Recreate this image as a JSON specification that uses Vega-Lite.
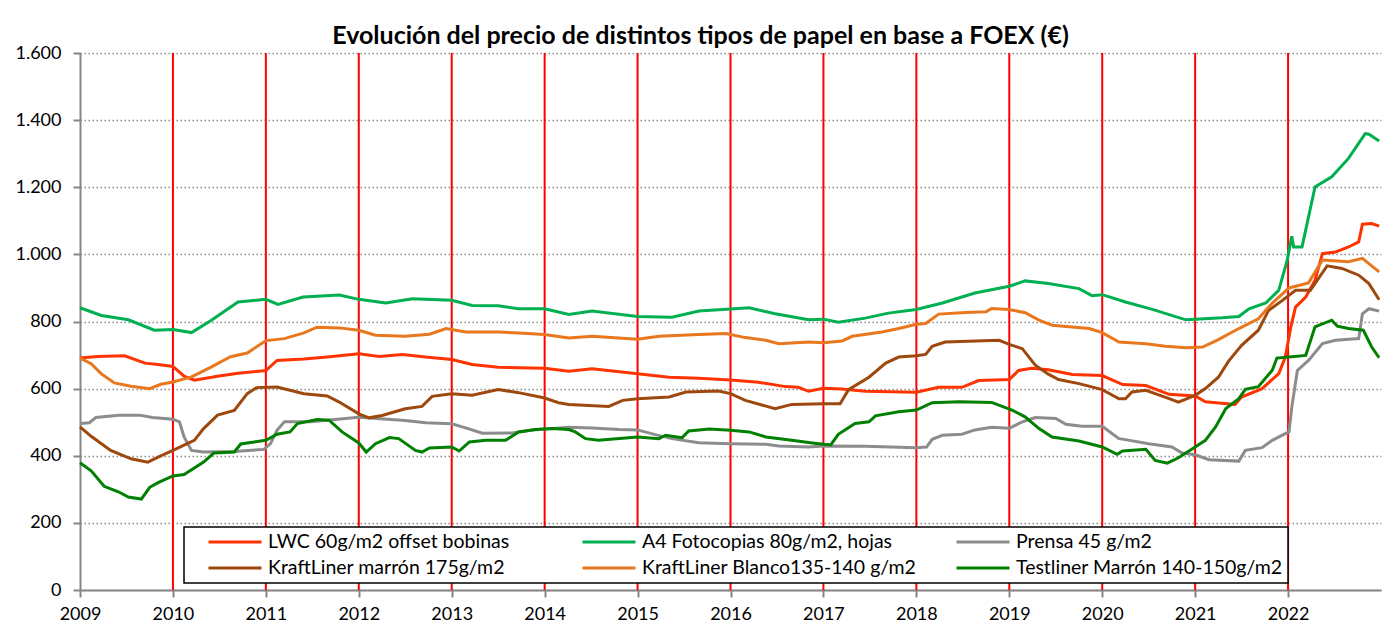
{
  "$schema": "https://vega.github.io/schema/vega-lite/v6.json",
  "autosize": "none",
  "width": 1301,
  "height": 537,
  "padding": {"left": 80, "top": 53, "right": 2, "bottom": 40},
  "background": "#ffffff",
  "title": {
    "text": "Evolución del precio de distintos tipos de papel en base a FOEX (€)",
    "font": "Lato",
    "fontSize": 25,
    "fontWeight": "bold",
    "color": "#000000",
    "anchor": "middle",
    "frame": "group",
    "dx": -30,
    "dy": 9,
    "offset": 4
  },
  "config": {
    "view": {"stroke": null},
    "font": "Lato",
    "legend": {"strokeWidth": 1.5}
  },
  "datasets": {
    "years": [
      {"yr": 2010}, {"yr": 2011}, {"yr": 2012}, {"yr": 2013}, {"yr": 2014}, {"yr": 2015}, {"yr": 2016},
      {"yr": 2017}, {"yr": 2018}, {"yr": 2019}, {"yr": 2020}, {"yr": 2021}, {"yr": 2022}
    ],
    "prices": [
      {"s":"LWC 60g/m2 offset bobinas","t":2009.0,"v":691},{"s":"LWC 60g/m2 offset bobinas","t":2009.19,"v":696},{"s":"LWC 60g/m2 offset bobinas","t":2009.48,"v":698},{"s":"LWC 60g/m2 offset bobinas","t":2009.7,"v":676},{"s":"LWC 60g/m2 offset bobinas","t":2009.84,"v":672},{"s":"LWC 60g/m2 offset bobinas","t":2010.0,"v":666},{"s":"LWC 60g/m2 offset bobinas","t":2010.12,"v":637},{"s":"LWC 60g/m2 offset bobinas","t":2010.23,"v":625},{"s":"LWC 60g/m2 offset bobinas","t":2010.48,"v":637},{"s":"LWC 60g/m2 offset bobinas","t":2010.7,"v":646},{"s":"LWC 60g/m2 offset bobinas","t":2011.0,"v":654},{"s":"LWC 60g/m2 offset bobinas","t":2011.12,"v":684},{"s":"LWC 60g/m2 offset bobinas","t":2011.41,"v":688},{"s":"LWC 60g/m2 offset bobinas","t":2011.66,"v":694},{"s":"LWC 60g/m2 offset bobinas","t":2012.0,"v":704},{"s":"LWC 60g/m2 offset bobinas","t":2012.22,"v":696},{"s":"LWC 60g/m2 offset bobinas","t":2012.47,"v":702},{"s":"LWC 60g/m2 offset bobinas","t":2012.72,"v":694},{"s":"LWC 60g/m2 offset bobinas","t":2013.0,"v":687},{"s":"LWC 60g/m2 offset bobinas","t":2013.22,"v":672},{"s":"LWC 60g/m2 offset bobinas","t":2013.5,"v":664},{"s":"LWC 60g/m2 offset bobinas","t":2013.72,"v":662},{"s":"LWC 60g/m2 offset bobinas","t":2014.0,"v":661},{"s":"LWC 60g/m2 offset bobinas","t":2014.26,"v":652},{"s":"LWC 60g/m2 offset bobinas","t":2014.51,"v":659},{"s":"LWC 60g/m2 offset bobinas","t":2015.0,"v":644},{"s":"LWC 60g/m2 offset bobinas","t":2015.34,"v":634},{"s":"LWC 60g/m2 offset bobinas","t":2015.66,"v":631},{"s":"LWC 60g/m2 offset bobinas","t":2016.0,"v":626},{"s":"LWC 60g/m2 offset bobinas","t":2016.3,"v":619},{"s":"LWC 60g/m2 offset bobinas","t":2016.59,"v":606},{"s":"LWC 60g/m2 offset bobinas","t":2016.73,"v":604},{"s":"LWC 60g/m2 offset bobinas","t":2016.84,"v":592},{"s":"LWC 60g/m2 offset bobinas","t":2017.0,"v":601},{"s":"LWC 60g/m2 offset bobinas","t":2017.2,"v":599},{"s":"LWC 60g/m2 offset bobinas","t":2017.45,"v":592},{"s":"LWC 60g/m2 offset bobinas","t":2018.0,"v":589},{"s":"LWC 60g/m2 offset bobinas","t":2018.24,"v":604},{"s":"LWC 60g/m2 offset bobinas","t":2018.49,"v":604},{"s":"LWC 60g/m2 offset bobinas","t":2018.67,"v":624},{"s":"LWC 60g/m2 offset bobinas","t":2019.0,"v":627},{"s":"LWC 60g/m2 offset bobinas","t":2019.1,"v":654},{"s":"LWC 60g/m2 offset bobinas","t":2019.24,"v":661},{"s":"LWC 60g/m2 offset bobinas","t":2019.42,"v":656},{"s":"LWC 60g/m2 offset bobinas","t":2019.68,"v":642},{"s":"LWC 60g/m2 offset bobinas","t":2020.0,"v":639},{"s":"LWC 60g/m2 offset bobinas","t":2020.22,"v":612},{"s":"LWC 60g/m2 offset bobinas","t":2020.47,"v":609},{"s":"LWC 60g/m2 offset bobinas","t":2020.72,"v":583},{"s":"LWC 60g/m2 offset bobinas","t":2021.0,"v":578},{"s":"LWC 60g/m2 offset bobinas","t":2021.11,"v":561},{"s":"LWC 60g/m2 offset bobinas","t":2021.43,"v":553},{"s":"LWC 60g/m2 offset bobinas","t":2021.5,"v":575},{"s":"LWC 60g/m2 offset bobinas","t":2021.72,"v":600},{"s":"LWC 60g/m2 offset bobinas","t":2021.9,"v":645},{"s":"LWC 60g/m2 offset bobinas","t":2021.97,"v":694},{"s":"LWC 60g/m2 offset bobinas","t":2022.03,"v":784},{"s":"LWC 60g/m2 offset bobinas","t":2022.08,"v":843},{"s":"LWC 60g/m2 offset bobinas","t":2022.19,"v":873},{"s":"LWC 60g/m2 offset bobinas","t":2022.29,"v":923},{"s":"LWC 60g/m2 offset bobinas","t":2022.37,"v":1002},{"s":"LWC 60g/m2 offset bobinas","t":2022.51,"v":1007},{"s":"LWC 60g/m2 offset bobinas","t":2022.65,"v":1022},{"s":"LWC 60g/m2 offset bobinas","t":2022.76,"v":1037},{"s":"LWC 60g/m2 offset bobinas","t":2022.8,"v":1090},{"s":"LWC 60g/m2 offset bobinas","t":2022.9,"v":1092},{"s":"LWC 60g/m2 offset bobinas","t":2022.98,"v":1084},

      {"s":"A4 Fotocopias 80g/m2, hojas","t":2009.0,"v":841},{"s":"A4 Fotocopias 80g/m2, hojas","t":2009.23,"v":818},{"s":"A4 Fotocopias 80g/m2, hojas","t":2009.52,"v":805},{"s":"A4 Fotocopias 80g/m2, hojas","t":2009.8,"v":774},{"s":"A4 Fotocopias 80g/m2, hojas","t":2010.0,"v":776},{"s":"A4 Fotocopias 80g/m2, hojas","t":2010.2,"v":767},{"s":"A4 Fotocopias 80g/m2, hojas","t":2010.41,"v":803},{"s":"A4 Fotocopias 80g/m2, hojas","t":2010.7,"v":858},{"s":"A4 Fotocopias 80g/m2, hojas","t":2011.0,"v":866},{"s":"A4 Fotocopias 80g/m2, hojas","t":2011.13,"v":851},{"s":"A4 Fotocopias 80g/m2, hojas","t":2011.4,"v":873},{"s":"A4 Fotocopias 80g/m2, hojas","t":2011.79,"v":879},{"s":"A4 Fotocopias 80g/m2, hojas","t":2012.0,"v":866},{"s":"A4 Fotocopias 80g/m2, hojas","t":2012.29,"v":855},{"s":"A4 Fotocopias 80g/m2, hojas","t":2012.58,"v":868},{"s":"A4 Fotocopias 80g/m2, hojas","t":2013.0,"v":863},{"s":"A4 Fotocopias 80g/m2, hojas","t":2013.22,"v":848},{"s":"A4 Fotocopias 80g/m2, hojas","t":2013.5,"v":847},{"s":"A4 Fotocopias 80g/m2, hojas","t":2013.72,"v":838},{"s":"A4 Fotocopias 80g/m2, hojas","t":2014.0,"v":838},{"s":"A4 Fotocopias 80g/m2, hojas","t":2014.26,"v":821},{"s":"A4 Fotocopias 80g/m2, hojas","t":2014.51,"v":831},{"s":"A4 Fotocopias 80g/m2, hojas","t":2015.0,"v":815},{"s":"A4 Fotocopias 80g/m2, hojas","t":2015.37,"v":813},{"s":"A4 Fotocopias 80g/m2, hojas","t":2015.66,"v":831},{"s":"A4 Fotocopias 80g/m2, hojas","t":2016.0,"v":837},{"s":"A4 Fotocopias 80g/m2, hojas","t":2016.2,"v":841},{"s":"A4 Fotocopias 80g/m2, hojas","t":2016.48,"v":823},{"s":"A4 Fotocopias 80g/m2, hojas","t":2016.84,"v":805},{"s":"A4 Fotocopias 80g/m2, hojas","t":2017.0,"v":807},{"s":"A4 Fotocopias 80g/m2, hojas","t":2017.16,"v":798},{"s":"A4 Fotocopias 80g/m2, hojas","t":2017.45,"v":810},{"s":"A4 Fotocopias 80g/m2, hojas","t":2017.7,"v":825},{"s":"A4 Fotocopias 80g/m2, hojas","t":2018.0,"v":836},{"s":"A4 Fotocopias 80g/m2, hojas","t":2018.28,"v":855},{"s":"A4 Fotocopias 80g/m2, hojas","t":2018.63,"v":885},{"s":"A4 Fotocopias 80g/m2, hojas","t":2019.0,"v":905},{"s":"A4 Fotocopias 80g/m2, hojas","t":2019.17,"v":921},{"s":"A4 Fotocopias 80g/m2, hojas","t":2019.42,"v":913},{"s":"A4 Fotocopias 80g/m2, hojas","t":2019.75,"v":898},{"s":"A4 Fotocopias 80g/m2, hojas","t":2019.89,"v":877},{"s":"A4 Fotocopias 80g/m2, hojas","t":2020.0,"v":880},{"s":"A4 Fotocopias 80g/m2, hojas","t":2020.25,"v":858},{"s":"A4 Fotocopias 80g/m2, hojas","t":2020.54,"v":836},{"s":"A4 Fotocopias 80g/m2, hojas","t":2020.9,"v":805},{"s":"A4 Fotocopias 80g/m2, hojas","t":2021.0,"v":807},{"s":"A4 Fotocopias 80g/m2, hojas","t":2021.29,"v":811},{"s":"A4 Fotocopias 80g/m2, hojas","t":2021.47,"v":815},{"s":"A4 Fotocopias 80g/m2, hojas","t":2021.58,"v":838},{"s":"A4 Fotocopias 80g/m2, hojas","t":2021.76,"v":855},{"s":"A4 Fotocopias 80g/m2, hojas","t":2021.9,"v":893},{"s":"A4 Fotocopias 80g/m2, hojas","t":2021.99,"v":982},{"s":"A4 Fotocopias 80g/m2, hojas","t":2022.04,"v":1054},{"s":"A4 Fotocopias 80g/m2, hojas","t":2022.06,"v":1022},{"s":"A4 Fotocopias 80g/m2, hojas","t":2022.15,"v":1022},{"s":"A4 Fotocopias 80g/m2, hojas","t":2022.29,"v":1201},{"s":"A4 Fotocopias 80g/m2, hojas","t":2022.47,"v":1231},{"s":"A4 Fotocopias 80g/m2, hojas","t":2022.65,"v":1286},{"s":"A4 Fotocopias 80g/m2, hojas","t":2022.83,"v":1360},{"s":"A4 Fotocopias 80g/m2, hojas","t":2022.87,"v":1358},{"s":"A4 Fotocopias 80g/m2, hojas","t":2022.98,"v":1338},

      {"s":"Prensa 45 g/m2","t":2009.0,"v":496},{"s":"Prensa 45 g/m2","t":2009.1,"v":498},{"s":"Prensa 45 g/m2","t":2009.17,"v":514},{"s":"Prensa 45 g/m2","t":2009.42,"v":521},{"s":"Prensa 45 g/m2","t":2009.64,"v":521},{"s":"Prensa 45 g/m2","t":2009.78,"v":514},{"s":"Prensa 45 g/m2","t":2010.0,"v":509},{"s":"Prensa 45 g/m2","t":2010.07,"v":501},{"s":"Prensa 45 g/m2","t":2010.12,"v":456},{"s":"Prensa 45 g/m2","t":2010.2,"v":416},{"s":"Prensa 45 g/m2","t":2010.33,"v":411},{"s":"Prensa 45 g/m2","t":2010.66,"v":413},{"s":"Prensa 45 g/m2","t":2010.98,"v":419},{"s":"Prensa 45 g/m2","t":2011.05,"v":436},{"s":"Prensa 45 g/m2","t":2011.12,"v":476},{"s":"Prensa 45 g/m2","t":2011.2,"v":501},{"s":"Prensa 45 g/m2","t":2011.48,"v":501},{"s":"Prensa 45 g/m2","t":2011.66,"v":506},{"s":"Prensa 45 g/m2","t":2012.0,"v":515},{"s":"Prensa 45 g/m2","t":2012.5,"v":505},{"s":"Prensa 45 g/m2","t":2012.72,"v":498},{"s":"Prensa 45 g/m2","t":2013.0,"v":495},{"s":"Prensa 45 g/m2","t":2013.15,"v":483},{"s":"Prensa 45 g/m2","t":2013.33,"v":467},{"s":"Prensa 45 g/m2","t":2013.65,"v":468},{"s":"Prensa 45 g/m2","t":2013.87,"v":477},{"s":"Prensa 45 g/m2","t":2014.26,"v":485},{"s":"Prensa 45 g/m2","t":2014.51,"v":483},{"s":"Prensa 45 g/m2","t":2014.8,"v":478},{"s":"Prensa 45 g/m2","t":2015.0,"v":477},{"s":"Prensa 45 g/m2","t":2015.19,"v":463},{"s":"Prensa 45 g/m2","t":2015.37,"v":451},{"s":"Prensa 45 g/m2","t":2015.66,"v":439},{"s":"Prensa 45 g/m2","t":2016.0,"v":436},{"s":"Prensa 45 g/m2","t":2016.38,"v":434},{"s":"Prensa 45 g/m2","t":2016.52,"v":429},{"s":"Prensa 45 g/m2","t":2016.84,"v":426},{"s":"Prensa 45 g/m2","t":2017.0,"v":429},{"s":"Prensa 45 g/m2","t":2017.45,"v":428},{"s":"Prensa 45 g/m2","t":2018.0,"v":424},{"s":"Prensa 45 g/m2","t":2018.11,"v":426},{"s":"Prensa 45 g/m2","t":2018.17,"v":449},{"s":"Prensa 45 g/m2","t":2018.28,"v":461},{"s":"Prensa 45 g/m2","t":2018.49,"v":464},{"s":"Prensa 45 g/m2","t":2018.63,"v":477},{"s":"Prensa 45 g/m2","t":2018.81,"v":485},{"s":"Prensa 45 g/m2","t":2019.0,"v":482},{"s":"Prensa 45 g/m2","t":2019.14,"v":501},{"s":"Prensa 45 g/m2","t":2019.28,"v":514},{"s":"Prensa 45 g/m2","t":2019.5,"v":511},{"s":"Prensa 45 g/m2","t":2019.61,"v":494},{"s":"Prensa 45 g/m2","t":2019.78,"v":488},{"s":"Prensa 45 g/m2","t":2020.0,"v":488},{"s":"Prensa 45 g/m2","t":2020.18,"v":451},{"s":"Prensa 45 g/m2","t":2020.25,"v":448},{"s":"Prensa 45 g/m2","t":2020.5,"v":436},{"s":"Prensa 45 g/m2","t":2020.75,"v":426},{"s":"Prensa 45 g/m2","t":2020.86,"v":408},{"s":"Prensa 45 g/m2","t":2021.0,"v":403},{"s":"Prensa 45 g/m2","t":2021.15,"v":388},{"s":"Prensa 45 g/m2","t":2021.47,"v":384},{"s":"Prensa 45 g/m2","t":2021.54,"v":416},{"s":"Prensa 45 g/m2","t":2021.72,"v":424},{"s":"Prensa 45 g/m2","t":2021.83,"v":446},{"s":"Prensa 45 g/m2","t":2021.97,"v":466},{"s":"Prensa 45 g/m2","t":2022.01,"v":471},{"s":"Prensa 45 g/m2","t":2022.04,"v":545},{"s":"Prensa 45 g/m2","t":2022.1,"v":654},{"s":"Prensa 45 g/m2","t":2022.22,"v":684},{"s":"Prensa 45 g/m2","t":2022.37,"v":734},{"s":"Prensa 45 g/m2","t":2022.51,"v":744},{"s":"Prensa 45 g/m2","t":2022.76,"v":749},{"s":"Prensa 45 g/m2","t":2022.8,"v":823},{"s":"Prensa 45 g/m2","t":2022.87,"v":838},{"s":"Prensa 45 g/m2","t":2022.98,"v":831},

      {"s":"KraftLiner marrón 175g/m2","t":2009.0,"v":486},{"s":"KraftLiner marrón 175g/m2","t":2009.12,"v":458},{"s":"KraftLiner marrón 175g/m2","t":2009.33,"v":416},{"s":"KraftLiner marrón 175g/m2","t":2009.55,"v":391},{"s":"KraftLiner marrón 175g/m2","t":2009.73,"v":381},{"s":"KraftLiner marrón 175g/m2","t":2009.84,"v":396},{"s":"KraftLiner marrón 175g/m2","t":2010.0,"v":416},{"s":"KraftLiner marrón 175g/m2","t":2010.23,"v":446},{"s":"KraftLiner marrón 175g/m2","t":2010.33,"v":481},{"s":"KraftLiner marrón 175g/m2","t":2010.48,"v":521},{"s":"KraftLiner marrón 175g/m2","t":2010.66,"v":535},{"s":"KraftLiner marrón 175g/m2","t":2010.8,"v":585},{"s":"KraftLiner marrón 175g/m2","t":2010.9,"v":603},{"s":"KraftLiner marrón 175g/m2","t":2011.12,"v":605},{"s":"KraftLiner marrón 175g/m2","t":2011.41,"v":585},{"s":"KraftLiner marrón 175g/m2","t":2011.66,"v":578},{"s":"KraftLiner marrón 175g/m2","t":2011.79,"v":560},{"s":"KraftLiner marrón 175g/m2","t":2012.0,"v":525},{"s":"KraftLiner marrón 175g/m2","t":2012.11,"v":513},{"s":"KraftLiner marrón 175g/m2","t":2012.25,"v":520},{"s":"KraftLiner marrón 175g/m2","t":2012.5,"v":540},{"s":"KraftLiner marrón 175g/m2","t":2012.68,"v":547},{"s":"KraftLiner marrón 175g/m2","t":2012.79,"v":577},{"s":"KraftLiner marrón 175g/m2","t":2013.0,"v":585},{"s":"KraftLiner marrón 175g/m2","t":2013.22,"v":580},{"s":"KraftLiner marrón 175g/m2","t":2013.5,"v":597},{"s":"KraftLiner marrón 175g/m2","t":2013.72,"v":588},{"s":"KraftLiner marrón 175g/m2","t":2014.0,"v":572},{"s":"KraftLiner marrón 175g/m2","t":2014.15,"v":558},{"s":"KraftLiner marrón 175g/m2","t":2014.26,"v":553},{"s":"KraftLiner marrón 175g/m2","t":2014.69,"v":547},{"s":"KraftLiner marrón 175g/m2","t":2014.84,"v":565},{"s":"KraftLiner marrón 175g/m2","t":2015.0,"v":570},{"s":"KraftLiner marrón 175g/m2","t":2015.34,"v":575},{"s":"KraftLiner marrón 175g/m2","t":2015.52,"v":590},{"s":"KraftLiner marrón 175g/m2","t":2015.87,"v":593},{"s":"KraftLiner marrón 175g/m2","t":2016.0,"v":585},{"s":"KraftLiner marrón 175g/m2","t":2016.16,"v":565},{"s":"KraftLiner marrón 175g/m2","t":2016.48,"v":540},{"s":"KraftLiner marrón 175g/m2","t":2016.66,"v":553},{"s":"KraftLiner marrón 175g/m2","t":2017.0,"v":555},{"s":"KraftLiner marrón 175g/m2","t":2017.18,"v":555},{"s":"KraftLiner marrón 175g/m2","t":2017.27,"v":597},{"s":"KraftLiner marrón 175g/m2","t":2017.49,"v":634},{"s":"KraftLiner marrón 175g/m2","t":2017.67,"v":676},{"s":"KraftLiner marrón 175g/m2","t":2017.81,"v":694},{"s":"KraftLiner marrón 175g/m2","t":2018.0,"v":698},{"s":"KraftLiner marrón 175g/m2","t":2018.1,"v":702},{"s":"KraftLiner marrón 175g/m2","t":2018.17,"v":726},{"s":"KraftLiner marrón 175g/m2","t":2018.31,"v":739},{"s":"KraftLiner marrón 175g/m2","t":2018.89,"v":744},{"s":"KraftLiner marrón 175g/m2","t":2019.0,"v":732},{"s":"KraftLiner marrón 175g/m2","t":2019.14,"v":719},{"s":"KraftLiner marrón 175g/m2","t":2019.28,"v":670},{"s":"KraftLiner marrón 175g/m2","t":2019.42,"v":643},{"s":"KraftLiner marrón 175g/m2","t":2019.53,"v":627},{"s":"KraftLiner marrón 175g/m2","t":2019.75,"v":615},{"s":"KraftLiner marrón 175g/m2","t":2020.0,"v":597},{"s":"KraftLiner marrón 175g/m2","t":2020.18,"v":570},{"s":"KraftLiner marrón 175g/m2","t":2020.25,"v":570},{"s":"KraftLiner marrón 175g/m2","t":2020.32,"v":590},{"s":"KraftLiner marrón 175g/m2","t":2020.47,"v":595},{"s":"KraftLiner marrón 175g/m2","t":2020.72,"v":570},{"s":"KraftLiner marrón 175g/m2","t":2020.82,"v":560},{"s":"KraftLiner marrón 175g/m2","t":2021.0,"v":580},{"s":"KraftLiner marrón 175g/m2","t":2021.11,"v":600},{"s":"KraftLiner marrón 175g/m2","t":2021.25,"v":634},{"s":"KraftLiner marrón 175g/m2","t":2021.36,"v":682},{"s":"KraftLiner marrón 175g/m2","t":2021.5,"v":729},{"s":"KraftLiner marrón 175g/m2","t":2021.68,"v":774},{"s":"KraftLiner marrón 175g/m2","t":2021.79,"v":833},{"s":"KraftLiner marrón 175g/m2","t":2021.94,"v":863},{"s":"KraftLiner marrón 175g/m2","t":2022.08,"v":893},{"s":"KraftLiner marrón 175g/m2","t":2022.24,"v":893},{"s":"KraftLiner marrón 175g/m2","t":2022.42,"v":966},{"s":"KraftLiner marrón 175g/m2","t":2022.58,"v":958},{"s":"KraftLiner marrón 175g/m2","t":2022.76,"v":938},{"s":"KraftLiner marrón 175g/m2","t":2022.87,"v":913},{"s":"KraftLiner marrón 175g/m2","t":2022.98,"v":865},

      {"s":"KraftLiner Blanco135-140 g/m2","t":2009.0,"v":691},{"s":"KraftLiner Blanco135-140 g/m2","t":2009.12,"v":674},{"s":"KraftLiner Blanco135-140 g/m2","t":2009.23,"v":644},{"s":"KraftLiner Blanco135-140 g/m2","t":2009.37,"v":617},{"s":"KraftLiner Blanco135-140 g/m2","t":2009.55,"v":607},{"s":"KraftLiner Blanco135-140 g/m2","t":2009.75,"v":600},{"s":"KraftLiner Blanco135-140 g/m2","t":2009.87,"v":613},{"s":"KraftLiner Blanco135-140 g/m2","t":2010.0,"v":620},{"s":"KraftLiner Blanco135-140 g/m2","t":2010.2,"v":635},{"s":"KraftLiner Blanco135-140 g/m2","t":2010.41,"v":664},{"s":"KraftLiner Blanco135-140 g/m2","t":2010.62,"v":695},{"s":"KraftLiner Blanco135-140 g/m2","t":2010.8,"v":706},{"s":"KraftLiner Blanco135-140 g/m2","t":2011.0,"v":743},{"s":"KraftLiner Blanco135-140 g/m2","t":2011.2,"v":749},{"s":"KraftLiner Blanco135-140 g/m2","t":2011.41,"v":766},{"s":"KraftLiner Blanco135-140 g/m2","t":2011.55,"v":783},{"s":"KraftLiner Blanco135-140 g/m2","t":2011.79,"v":781},{"s":"KraftLiner Blanco135-140 g/m2","t":2012.0,"v":774},{"s":"KraftLiner Blanco135-140 g/m2","t":2012.18,"v":759},{"s":"KraftLiner Blanco135-140 g/m2","t":2012.5,"v":756},{"s":"KraftLiner Blanco135-140 g/m2","t":2012.76,"v":762},{"s":"KraftLiner Blanco135-140 g/m2","t":2012.94,"v":779},{"s":"KraftLiner Blanco135-140 g/m2","t":2013.15,"v":769},{"s":"KraftLiner Blanco135-140 g/m2","t":2013.5,"v":769},{"s":"KraftLiner Blanco135-140 g/m2","t":2013.72,"v":766},{"s":"KraftLiner Blanco135-140 g/m2","t":2014.0,"v":761},{"s":"KraftLiner Blanco135-140 g/m2","t":2014.26,"v":751},{"s":"KraftLiner Blanco135-140 g/m2","t":2014.51,"v":756},{"s":"KraftLiner Blanco135-140 g/m2","t":2015.0,"v":747},{"s":"KraftLiner Blanco135-140 g/m2","t":2015.23,"v":756},{"s":"KraftLiner Blanco135-140 g/m2","t":2015.66,"v":761},{"s":"KraftLiner Blanco135-140 g/m2","t":2015.95,"v":764},{"s":"KraftLiner Blanco135-140 g/m2","t":2016.16,"v":752},{"s":"KraftLiner Blanco135-140 g/m2","t":2016.38,"v":744},{"s":"KraftLiner Blanco135-140 g/m2","t":2016.52,"v":734},{"s":"KraftLiner Blanco135-140 g/m2","t":2016.84,"v":739},{"s":"KraftLiner Blanco135-140 g/m2","t":2017.0,"v":737},{"s":"KraftLiner Blanco135-140 g/m2","t":2017.2,"v":742},{"s":"KraftLiner Blanco135-140 g/m2","t":2017.31,"v":756},{"s":"KraftLiner Blanco135-140 g/m2","t":2017.63,"v":769},{"s":"KraftLiner Blanco135-140 g/m2","t":2017.81,"v":779},{"s":"KraftLiner Blanco135-140 g/m2","t":2018.0,"v":792},{"s":"KraftLiner Blanco135-140 g/m2","t":2018.1,"v":794},{"s":"KraftLiner Blanco135-140 g/m2","t":2018.24,"v":822},{"s":"KraftLiner Blanco135-140 g/m2","t":2018.53,"v":827},{"s":"KraftLiner Blanco135-140 g/m2","t":2018.75,"v":829},{"s":"KraftLiner Blanco135-140 g/m2","t":2018.81,"v":839},{"s":"KraftLiner Blanco135-140 g/m2","t":2019.0,"v":836},{"s":"KraftLiner Blanco135-140 g/m2","t":2019.17,"v":826},{"s":"KraftLiner Blanco135-140 g/m2","t":2019.32,"v":804},{"s":"KraftLiner Blanco135-140 g/m2","t":2019.46,"v":789},{"s":"KraftLiner Blanco135-140 g/m2","t":2019.86,"v":779},{"s":"KraftLiner Blanco135-140 g/m2","t":2020.0,"v":767},{"s":"KraftLiner Blanco135-140 g/m2","t":2020.18,"v":739},{"s":"KraftLiner Blanco135-140 g/m2","t":2020.47,"v":734},{"s":"KraftLiner Blanco135-140 g/m2","t":2020.68,"v":726},{"s":"KraftLiner Blanco135-140 g/m2","t":2020.9,"v":722},{"s":"KraftLiner Blanco135-140 g/m2","t":2021.08,"v":724},{"s":"KraftLiner Blanco135-140 g/m2","t":2021.25,"v":746},{"s":"KraftLiner Blanco135-140 g/m2","t":2021.47,"v":779},{"s":"KraftLiner Blanco135-140 g/m2","t":2021.68,"v":808},{"s":"KraftLiner Blanco135-140 g/m2","t":2021.83,"v":855},{"s":"KraftLiner Blanco135-140 g/m2","t":2022.01,"v":900},{"s":"KraftLiner Blanco135-140 g/m2","t":2022.22,"v":915},{"s":"KraftLiner Blanco135-140 g/m2","t":2022.37,"v":983},{"s":"KraftLiner Blanco135-140 g/m2","t":2022.65,"v":978},{"s":"KraftLiner Blanco135-140 g/m2","t":2022.8,"v":988},{"s":"KraftLiner Blanco135-140 g/m2","t":2022.98,"v":948},

      {"s":"Testliner Marrón 140-150g/m2","t":2009.0,"v":379},{"s":"Testliner Marrón 140-150g/m2","t":2009.12,"v":355},{"s":"Testliner Marrón 140-150g/m2","t":2009.26,"v":309},{"s":"Testliner Marrón 140-150g/m2","t":2009.42,"v":292},{"s":"Testliner Marrón 140-150g/m2","t":2009.52,"v":277},{"s":"Testliner Marrón 140-150g/m2","t":2009.66,"v":271},{"s":"Testliner Marrón 140-150g/m2","t":2009.75,"v":306},{"s":"Testliner Marrón 140-150g/m2","t":2009.84,"v":320},{"s":"Testliner Marrón 140-150g/m2","t":2010.0,"v":340},{"s":"Testliner Marrón 140-150g/m2","t":2010.12,"v":344},{"s":"Testliner Marrón 140-150g/m2","t":2010.33,"v":381},{"s":"Testliner Marrón 140-150g/m2","t":2010.44,"v":408},{"s":"Testliner Marrón 140-150g/m2","t":2010.66,"v":411},{"s":"Testliner Marrón 140-150g/m2","t":2010.73,"v":435},{"s":"Testliner Marrón 140-150g/m2","t":2011.0,"v":446},{"s":"Testliner Marrón 140-150g/m2","t":2011.12,"v":464},{"s":"Testliner Marrón 140-150g/m2","t":2011.26,"v":471},{"s":"Testliner Marrón 140-150g/m2","t":2011.34,"v":496},{"s":"Testliner Marrón 140-150g/m2","t":2011.55,"v":508},{"s":"Testliner Marrón 140-150g/m2","t":2011.68,"v":506},{"s":"Testliner Marrón 140-150g/m2","t":2011.82,"v":471},{"s":"Testliner Marrón 140-150g/m2","t":2012.0,"v":438},{"s":"Testliner Marrón 140-150g/m2","t":2012.08,"v":411},{"s":"Testliner Marrón 140-150g/m2","t":2012.18,"v":436},{"s":"Testliner Marrón 140-150g/m2","t":2012.33,"v":454},{"s":"Testliner Marrón 140-150g/m2","t":2012.43,"v":451},{"s":"Testliner Marrón 140-150g/m2","t":2012.61,"v":416},{"s":"Testliner Marrón 140-150g/m2","t":2012.68,"v":411},{"s":"Testliner Marrón 140-150g/m2","t":2012.76,"v":423},{"s":"Testliner Marrón 140-150g/m2","t":2013.0,"v":426},{"s":"Testliner Marrón 140-150g/m2","t":2013.08,"v":414},{"s":"Testliner Marrón 140-150g/m2","t":2013.19,"v":441},{"s":"Testliner Marrón 140-150g/m2","t":2013.37,"v":446},{"s":"Testliner Marrón 140-150g/m2","t":2013.58,"v":446},{"s":"Testliner Marrón 140-150g/m2","t":2013.72,"v":471},{"s":"Testliner Marrón 140-150g/m2","t":2013.9,"v":478},{"s":"Testliner Marrón 140-150g/m2","t":2014.08,"v":481},{"s":"Testliner Marrón 140-150g/m2","t":2014.26,"v":478},{"s":"Testliner Marrón 140-150g/m2","t":2014.33,"v":471},{"s":"Testliner Marrón 140-150g/m2","t":2014.44,"v":451},{"s":"Testliner Marrón 140-150g/m2","t":2014.58,"v":446},{"s":"Testliner Marrón 140-150g/m2","t":2015.0,"v":456},{"s":"Testliner Marrón 140-150g/m2","t":2015.23,"v":451},{"s":"Testliner Marrón 140-150g/m2","t":2015.3,"v":461},{"s":"Testliner Marrón 140-150g/m2","t":2015.48,"v":454},{"s":"Testliner Marrón 140-150g/m2","t":2015.55,"v":474},{"s":"Testliner Marrón 140-150g/m2","t":2015.77,"v":480},{"s":"Testliner Marrón 140-150g/m2","t":2016.0,"v":476},{"s":"Testliner Marrón 140-150g/m2","t":2016.2,"v":471},{"s":"Testliner Marrón 140-150g/m2","t":2016.38,"v":456},{"s":"Testliner Marrón 140-150g/m2","t":2016.66,"v":446},{"s":"Testliner Marrón 140-150g/m2","t":2016.88,"v":438},{"s":"Testliner Marrón 140-150g/m2","t":2017.0,"v":434},{"s":"Testliner Marrón 140-150g/m2","t":2017.08,"v":433},{"s":"Testliner Marrón 140-150g/m2","t":2017.16,"v":464},{"s":"Testliner Marrón 140-150g/m2","t":2017.34,"v":496},{"s":"Testliner Marrón 140-150g/m2","t":2017.49,"v":501},{"s":"Testliner Marrón 140-150g/m2","t":2017.56,"v":519},{"s":"Testliner Marrón 140-150g/m2","t":2017.81,"v":531},{"s":"Testliner Marrón 140-150g/m2","t":2018.0,"v":536},{"s":"Testliner Marrón 140-150g/m2","t":2018.17,"v":558},{"s":"Testliner Marrón 140-150g/m2","t":2018.46,"v":561},{"s":"Testliner Marrón 140-150g/m2","t":2018.81,"v":559},{"s":"Testliner Marrón 140-150g/m2","t":2019.03,"v":536},{"s":"Testliner Marrón 140-150g/m2","t":2019.17,"v":516},{"s":"Testliner Marrón 140-150g/m2","t":2019.32,"v":481},{"s":"Testliner Marrón 140-150g/m2","t":2019.46,"v":456},{"s":"Testliner Marrón 140-150g/m2","t":2019.75,"v":444},{"s":"Testliner Marrón 140-150g/m2","t":2020.0,"v":426},{"s":"Testliner Marrón 140-150g/m2","t":2020.16,"v":404},{"s":"Testliner Marrón 140-150g/m2","t":2020.22,"v":414},{"s":"Testliner Marrón 140-150g/m2","t":2020.47,"v":419},{"s":"Testliner Marrón 140-150g/m2","t":2020.57,"v":386},{"s":"Testliner Marrón 140-150g/m2","t":2020.7,"v":378},{"s":"Testliner Marrón 140-150g/m2","t":2020.82,"v":394},{"s":"Testliner Marrón 140-150g/m2","t":2021.0,"v":426},{"s":"Testliner Marrón 140-150g/m2","t":2021.11,"v":446},{"s":"Testliner Marrón 140-150g/m2","t":2021.22,"v":486},{"s":"Testliner Marrón 140-150g/m2","t":2021.33,"v":541},{"s":"Testliner Marrón 140-150g/m2","t":2021.47,"v":570},{"s":"Testliner Marrón 140-150g/m2","t":2021.54,"v":598},{"s":"Testliner Marrón 140-150g/m2","t":2021.68,"v":606},{"s":"Testliner Marrón 140-150g/m2","t":2021.83,"v":655},{"s":"Testliner Marrón 140-150g/m2","t":2021.88,"v":691},{"s":"Testliner Marrón 140-150g/m2","t":2022.01,"v":694},{"s":"Testliner Marrón 140-150g/m2","t":2022.19,"v":699},{"s":"Testliner Marrón 140-150g/m2","t":2022.29,"v":784},{"s":"Testliner Marrón 140-150g/m2","t":2022.47,"v":804},{"s":"Testliner Marrón 140-150g/m2","t":2022.53,"v":786},{"s":"Testliner Marrón 140-150g/m2","t":2022.65,"v":779},{"s":"Testliner Marrón 140-150g/m2","t":2022.81,"v":774},{"s":"Testliner Marrón 140-150g/m2","t":2022.9,"v":724},{"s":"Testliner Marrón 140-150g/m2","t":2022.98,"v":692}
    ]
  },
  "layer": [
    {
      "data": {"name": "years"},
      "mark": {"type": "rule", "color": "#FF0000", "strokeWidth": 2},
      "encoding": {
        "x": {"field": "yr", "type": "quantitative"},
        "y": {"datum": 0, "type": "quantitative"},
        "y2": {"datum": 1600}
      }
    },
    {
      "data": {"name": "prices"},
      "mark": {"type": "line", "strokeWidth": 3, "interpolate": "linear"},
      "encoding": {
        "x": {
          "field": "t", "type": "quantitative",
          "scale": {"domain": [2009, 2023], "nice": false, "zero": false},
          "axis": {
            "title": null, "values": [2009,2010,2011,2012,2013,2014,2015,2016,2017,2018,2019,2020,2021,2022],
            "format": "d", "grid": false,
            "domainColor": "#868686", "domainWidth": 2,
            "tickColor": "#868686", "tickWidth": 2, "tickSize": 7,
            "labelFont": "Lato", "labelFontSize": 18, "labelColor": "#000000",
            "labelPadding": 8, "labelFlush": false, "labelOverlap": false
          }
        },
        "y": {
          "field": "v", "type": "quantitative",
          "scale": {"domain": [0, 1600], "nice": false},
          "axis": {
            "title": null, "values": [0,200,400,600,800,1000,1200,1400,1600],
            "grid": true, "gridColor": "#8c8c8c", "gridDash": [1.5, 2.5], "gridWidth": 1.5,
            "domainColor": "#868686", "domainWidth": 2,
            "tickColor": "#868686", "tickWidth": 2, "tickSize": 7,
            "labelFont": "Lato", "labelFontSize": 18, "labelColor": "#000000",
            "labelPadding": 12, "labelFlush": false,
            "labelExpr": "replace(format(datum.value, ',d'), ',', '.')"
          }
        },
        "color": {
          "field": "s", "type": "nominal",
          "scale": {
            "domain": ["LWC 60g/m2 offset bobinas", "A4 Fotocopias 80g/m2, hojas", "Prensa 45 g/m2", "KraftLiner marrón 175g/m2", "KraftLiner Blanco135-140 g/m2", "Testliner Marrón 140-150g/m2"],
            "range": ["#FF3300", "#00B050", "#8C8C8C", "#9E480E", "#E8771E", "#008000"]
          },
          "legend": {
            "title": null,
            "orient": "none",
            "legendX": 104,
            "legendY": 474,
            "direction": "horizontal",
            "columns": 3,
            "gridAlign": "all",
            "symbolType": "stroke",
            "symbolSize": 2809,
            "symbolStrokeWidth": 3,
            "clipHeight": 20,
            "symbolOffset": 18,
            "labelOffset": 5,
            "labelFont": "Lato",
            "labelFontSize": 19.5,
            "labelColor": "#000000",
            "labelLimit": 400,
            "columnPadding": 20,
            "rowPadding": 6,
            "padding": 5,
            "fillColor": "#ffffff",
            "strokeColor": "#000000"
          }
        },
        "order": {"field": "t", "type": "quantitative"}
      }
    }
  ]
}
